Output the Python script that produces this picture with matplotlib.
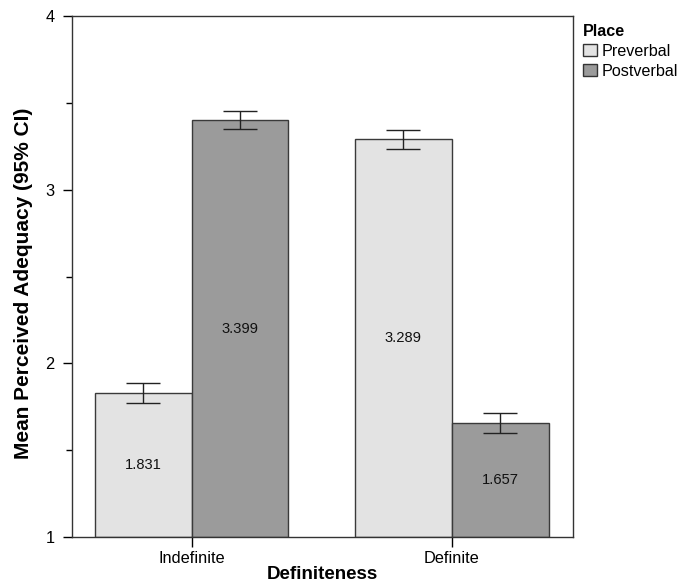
import matplotlib
matplotlib.use("Agg")
import matplotlib.pyplot as plt
import numpy as np
from matplotlib.ticker import MultipleLocator

plt.rcParams['font.family'] = ['Liberation Sans', 'DejaVu Sans']

categories = ["Indefinite", "Definite"]
series = ["Preverbal", "Postverbal"]
means = {"Preverbal": [1.831, 3.289], "Postverbal": [3.399, 1.657]}
ci_low = {"Preverbal": [1.773, 3.234], "Postverbal": [3.349, 1.597]}
ci_high = {"Preverbal": [1.885, 3.345], "Postverbal": [3.451, 1.714]}
colors = {"Preverbal": "#e3e3e3", "Postverbal": "#9b9b9b"}

W, H = 683, 584
fig = plt.figure(figsize=(W/100, H/100), dpi=100)
ax = fig.add_axes([72/W, 1-537/H, (573.3-72)/W, (537-16)/H])

x = np.arange(len(categories))
bw = 0.372
base = 1.0
for i, s in enumerate(series):
    pos = x + (i - 0.5) * bw
    vals = np.array(means[s])
    ax.bar(pos, vals - base, bottom=base, width=bw, color=colors[s],
           edgecolor="#3a3a3a", linewidth=1.0, label=s, zorder=2)
    lo = vals - np.array(ci_low[s])
    hi = np.array(ci_high[s]) - vals
    ax.errorbar(pos, vals, yerr=[lo, hi], fmt='none', ecolor="#222222",
                elinewidth=1.0, capsize=12, capthick=1.0, zorder=3)
    for p, v in zip(pos, vals):
        ax.text(p, (base + v) / 2, f"{v:.3f}", ha='center', va='center',
                fontsize=10.6, color="#111111", zorder=4)

ax.set_xlim(-0.46, 1.467)
ax.set_ylim(1, 4)
ax.set_xticks(x)
ax.set_xticklabels(categories, fontsize=11.8)
ax.yaxis.set_major_locator(MultipleLocator(1))
ax.yaxis.set_minor_locator(MultipleLocator(0.5))
ax.tick_params(axis='y', which='major', length=6.5, width=1, labelsize=11.8, direction='out', pad=6)
ax.tick_params(axis='y', which='minor', length=4, width=1, direction='out')
ax.tick_params(axis='x', length=7, width=1, labelsize=11.8, pad=3)
for sp in ax.spines.values():
    sp.set_color("#333333")
    sp.set_linewidth(1.0)

ax.set_xlabel("Definiteness", fontsize=13.5, fontweight='bold', labelpad=0)
ax.set_ylabel("Mean Perceived Adequacy (95% CI)", fontsize=15, fontweight='bold', labelpad=9)
ax.yaxis.label.set_y(0.487)

leg = fig.legend(loc='upper left', bbox_to_anchor=(583/W, 1-24/H), frameon=False,
                 title="Place", fontsize=11.6, title_fontsize=11.6,
                 handlelength=0.85, handleheight=0.8, handletextpad=0.3,
                 labelspacing=0.3, borderpad=0, borderaxespad=0, alignment='left')
leg.get_title().set_fontweight('bold')
for h in leg.legend_handles:
    h.set_edgecolor("#333333")

fig.savefig("out.png", dpi=100)
